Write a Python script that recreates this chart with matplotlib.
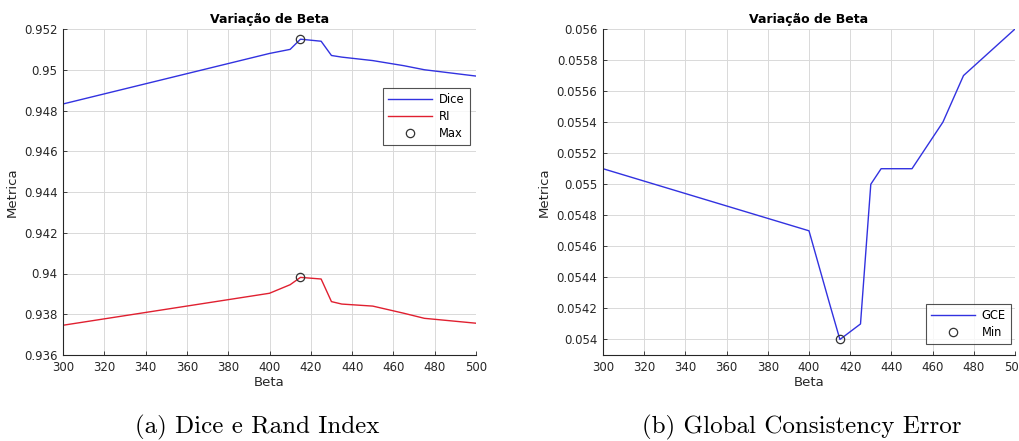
import matplotlib
matplotlib.use("Agg")
import matplotlib.pyplot as plt
from matplotlib.ticker import FuncFormatter

beta = [300, 400, 410, 415, 425, 430, 435, 450, 465, 475, 500]
dice = [0.94832, 0.9508, 0.9510, 0.9515, 0.9514, 0.9507, 0.95062, 0.95045, 0.9502, 0.9500, 0.94969]
ri = [0.93746, 0.93903, 0.93945, 0.93981, 0.93973, 0.93862, 0.93850, 0.93840, 0.93805, 0.93780, 0.93756]
gce = [0.0551, 0.0547, 0.05423, 0.0540, 0.0541, 0.0550, 0.0551, 0.0551, 0.0554, 0.0557, 0.0560]

xticks = list(range(300, 501, 20))
yticks_a = [0.936, 0.938, 0.940, 0.942, 0.944, 0.946, 0.948, 0.950, 0.952]
yticks_b = [0.0540, 0.0542, 0.0544, 0.0546, 0.0548, 0.0550, 0.0552, 0.0554, 0.0556, 0.0558, 0.0560]

W, H = 1019, 441
fig = plt.figure(figsize=(W / 100, H / 100), dpi=100)
fig.patch.set_facecolor("white")

TXT = "#262626"
fmt = FuncFormatter(lambda v, p: ("%.4f" % v).rstrip("0").rstrip("."))


def style(ax):
    ax.set_xlim(300, 500)
    ax.set_xticks(xticks)
    for s in ["top", "right"]:
        ax.spines[s].set_visible(False)
    for s in ["left", "bottom"]:
        ax.spines[s].set_color(TXT)
        ax.spines[s].set_linewidth(0.8)
    ax.tick_params(direction="in", length=3, width=0.6, colors=TXT, labelsize=8.5, pad=4)
    ax.grid(True, color="#d9d9d9", linewidth=0.7)
    ax.set_axisbelow(True)
    ax.yaxis.set_major_formatter(fmt)
    ax.set_xlabel("Beta", fontsize=9.5, color=TXT, labelpad=2)
    ax.set_ylabel("Metrica", fontsize=9.5, color=TXT, labelpad=4)
    ax.set_title("Variação de Beta", fontsize=9, fontweight="bold", color="black", pad=4)


def rect(l, r, t, b):
    return [l / W, 1 - b / H, (r - l) / W, (b - t) / H]


legkw = dict(fontsize=8.3, frameon=True, fancybox=False, edgecolor=TXT, borderpad=0.45,
             labelspacing=0.35, handlelength=3.8, handletextpad=0.6, borderaxespad=0)

ax1 = fig.add_axes(rect(63, 476, 29, 355))
ax1.plot(beta, dice, color="#3232e0", lw=1.0, label="Dice")
ax1.plot(beta, ri, color="#e02030", lw=1.0, label="RI")
imax_d = dice.index(max(dice))
imax_r = ri.index(max(ri))
ax1.plot([beta[imax_d], beta[imax_r]], [dice[imax_d], ri[imax_r]], "o", mfc="none",
         mec="#333333", ms=6, mew=0.9, label="Max")
ax1.set_ylim(0.936, 0.952)
ax1.set_yticks(yticks_a)
style(ax1)
leg1 = ax1.legend(loc="upper right", bbox_to_anchor=(0.985, 0.819), **legkw)
leg1.get_frame().set_linewidth(0.8)

ax2 = fig.add_axes(rect(603, 1015, 29, 355))
ax2.plot(beta, gce, color="#3232e0", lw=1.0, label="GCE")
imin = gce.index(min(gce))
ax2.plot([beta[imin]], [gce[imin]], "o", mfc="none", mec="#333333", ms=6, mew=0.9, label="Min")
ax2.set_ylim(0.05390, 0.0560)
ax2.set_yticks(yticks_b)
style(ax2)
leg2 = ax2.legend(loc="lower right", bbox_to_anchor=(0.990, 0.034), **legkw)
leg2.get_frame().set_linewidth(0.8)

fig.text(257 / W, 1 - 427 / H, "(a) Dice e Rand Index", fontsize=18, family="cmr10",
         ha="center", va="center")
fig.text(802 / W, 1 - 427 / H, "(b) Global Consistency Error", fontsize=18, family="cmr10",
         ha="center", va="center")

fig.savefig("out.png", dpi=100, facecolor="white")
